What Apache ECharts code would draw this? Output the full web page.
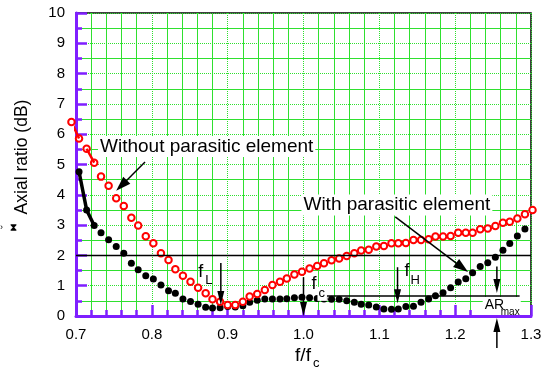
<!DOCTYPE html>
<html>
<head>
<meta charset="utf-8">
<script src="https://cdn.jsdelivr.net/npm/echarts@6/dist/echarts.min.js"></script>
<style>
  html, body { margin: 0; padding: 0; background: #fff; }
  #chart { width: 547px; height: 373px; }
</style>
</head>
<body>
<div id="chart"></div>
<script>
// normalised frequency of the measured points (f/fc)
const freq = [0.704,0.714,0.724,0.733,0.743,0.753,0.763,0.773,0.782,0.792,0.802,
  0.812,0.822,0.831,0.841,0.851,0.861,0.871,0.880,0.890,0.900,
  0.910,0.920,0.929,0.939,0.949,0.959,0.969,0.978,0.988,0.998,
  1.008,1.018,1.027,1.037,1.047,1.057,1.067,1.076,1.086,1.096,
  1.106,1.116,1.125,1.135,1.145,1.155,1.165,1.174,1.184,1.194,
  1.204,1.214,1.223,1.233,1.243,1.253,1.263,1.272,1.282,1.292,1.302];

// axial ratio (dB) with parasitic element
const arWith = [4.76,3.50,2.99,2.75,2.52,2.29,2.07,1.74,1.53,1.33,
  1.22,1.02,0.83,0.75,0.56,0.48,0.39,0.29,0.26,0.27,
  0.31,0.30,0.34,0.45,0.52,0.56,0.56,0.56,0.57,0.60,
  0.62,0.60,0.58,0.56,0.55,0.55,0.50,0.45,0.39,0.36,
  0.30,0.23,0.22,0.23,0.31,0.32,0.45,0.56,0.67,0.77,
  0.93,1.12,1.23,1.43,1.63,1.76,1.94,2.17,2.39,2.64,
  2.87,3.11];

// without parasitic element (one extra point below 0.7)
const freqNo = [0.694, ...freq];
const arNo = [6.40,5.86,5.52,5.06,4.60,4.30,3.89,3.63,3.24,2.99,
  2.63,2.40,2.07,1.85,1.54,1.33,1.13,0.93,0.75,0.55,
  0.47,0.36,0.36,0.47,0.64,0.73,0.86,1.02,1.13,1.24,
  1.37,1.46,1.57,1.65,1.74,1.84,1.90,1.98,2.07,2.16,
  2.19,2.29,2.31,2.40,2.40,2.41,2.51,2.51,2.53,2.62,
  2.62,2.64,2.75,2.75,2.75,2.86,2.89,2.97,3.08,3.11,
  3.22,3.36,3.50];

// reference lines: 2 dB limit and AR max level
const limitLine = [[0.7, 2], [1.3, 2]];
const arMaxLine = [[1.029, 0.66], [1.285, 0.66]];

// annotation arrows [from, to, head length, head width] in data units
const arrows = [
  [[0.791, 5.08], [0.753, 4.13], 15, 10],
  [[1.121, 3.27], [1.217, 1.45], 15, 10],
  [[0.891, 1.75], [0.891, 0.36], 14, 7],
  [[1.0, 1.28], [1.0, 0.0], 14, 7],
  [[1.124, 1.61], [1.124, 0.42], 14, 7],
  [[1.255, 1.63], [1.255, 0.76], 14, 7],
  [[1.255, -1.06], [1.255, -0.07], 14, 7]
];

const FONT = "'Liberation Sans', Arial, sans-serif";
const PURPLE = '#7f1fff';
const GREEN = '#2fe02f';

const chart = echarts.init(document.getElementById('chart'), null, { renderer: 'canvas' });

function pairs(xs, ys, from, to) {
  const out = [];
  for (let i = from; i <= to; i++) out.push([xs[i], ys[i]]);
  return out;
}

const option = {
  animation: false,
  backgroundColor: '#fff',
  grid: {
    left: 76, right: 16, top: 13, bottom: 57,
    show: true, borderColor: '#000', borderWidth: 1.5
  },
  xAxis: {
    type: 'value', min: 0.7, max: 1.3, interval: 0.1,
    axisLine: { lineStyle: { color: PURPLE, width: 3 } },
    axisTick: { inside: true, length: 11, lineStyle: { color: PURPLE, width: 2.5 } },
    minorTick: { show: true, splitNumber: 5, length: 6, lineStyle: { color: PURPLE, width: 2.5 } },
    axisLabel: { color: '#000', fontSize: 15, fontFamily: FONT, margin: 11,
      formatter: v => v.toFixed(1) },
    splitLine: { show: true, lineStyle: { color: GREEN, width: 1, type: 'dotted' } },
    minorSplitLine: { show: true, lineStyle: { color: GREEN, width: 1 } }
  },
  yAxis: {
    type: 'value', min: 0, max: 10, interval: 1,
    axisLine: { lineStyle: { color: PURPLE, width: 3 } },
    axisTick: { inside: true, length: 11, lineStyle: { color: PURPLE, width: 2.5 } },
    minorTick: { show: true, splitNumber: 2, length: 6, lineStyle: { color: PURPLE, width: 2.5 } },
    axisLabel: { color: '#000', fontSize: 15, fontFamily: FONT, margin: 11 },
    splitLine: { show: true, lineStyle: { color: GREEN, width: 1, type: 'dotted' } },
    minorSplitLine: { show: true, lineStyle: { color: GREEN, width: 1 } }
  },
  series: [
    { type: 'line', data: limitLine, symbol: 'none', silent: true,
      lineStyle: { color: '#000', width: 1.5 } },
    { type: 'line', data: arMaxLine, symbol: 'none', silent: true,
      lineStyle: { color: '#000', width: 1.5 } },
    { type: 'line', data: pairs(freq, arWith, 0, 2), symbol: 'none', silent: true,
      lineStyle: { color: '#000', width: 3.5 } },
    { type: 'line', data: pairs(freqNo, arNo, 0, 1), symbol: 'none', silent: true, clip: false,
      lineStyle: { color: '#ff0000', width: 2.5 } },
    { type: 'line', data: pairs(freqNo, arNo, 2, 3), symbol: 'none', silent: true,
      lineStyle: { color: '#ff0000', width: 2.5 } },
    { name: 'With parasitic element', type: 'scatter', symbol: 'circle', symbolSize: 7,
      data: freq.map((f, i) => [f, arWith[i]]),
      itemStyle: { color: '#000', opacity: 1 } },
    { name: 'Without parasitic element', type: 'scatter', symbol: 'emptyCircle', symbolSize: 6.5,
      clip: false,
      data: freqNo.map((f, i) => [f, arNo[i]]),
      itemStyle: { color: '#ff0000', borderColor: '#ff0000', borderWidth: 1.2, opacity: 1 } }
  ]
};
chart.setOption(option);

function px(p) { return chart.convertToPixel({ gridIndex: 0 }, p); }

function arrow(a, b, hl, hw) {
  const p = px(a), q = px(b);
  const dx = q[0] - p[0], dy = q[1] - p[1];
  const len = Math.hypot(dx, dy);
  const ux = dx / len, uy = dy / len;
  const bx = q[0] - ux * hl, by = q[1] - uy * hl;
  return [
    { type: 'line', z: 100, shape: { x1: p[0], y1: p[1], x2: bx + ux, y2: by + uy },
      style: { stroke: '#000', lineWidth: 1.5 } },
    { type: 'polygon', z: 100,
      shape: { points: [[q[0], q[1]], [bx - uy * hw / 2, by + ux * hw / 2], [bx + uy * hw / 2, by - ux * hw / 2]] },
      style: { fill: '#000' } }
  ];
}

function label(pos, text, size, extra) {
  const p = px(pos);
  return {
    type: 'text', z: 101, x: p[0], y: p[1],
    style: Object.assign({ text: text, fill: '#000', font: size + 'px ' + FONT,
      textAlign: 'left', textVerticalAlign: 'middle' }, extra || {})
  };
}

const WHITE = { backgroundColor: '#fff', padding: [1, 2, 1, 2] };

const g = [];
arrows.forEach(a => g.push(...arrow(a[0], a[1], a[2], a[3])));

// white box behind AR max
const b0 = px([1.2363, 0.66]), b1 = px([1.2865, 0]);
g.push({ type: 'rect', z: 99, shape: { x: b0[0], y: b0[1] + 1, width: b1[0] - b0[0], height: b1[1] - b0[1] - 2 },
  style: { fill: '#fff' } });

g.push(label([0.7290, 5.59], 'Without parasitic element', 19, WHITE));
g.push(label([0.9973, 3.66], 'With parasitic element', 19, WHITE));
g.push(label([0.8612, 1.45], 'f', 18));
g.push(label([0.8704, 1.16], 'L', 13));
g.push(label([1.0104, 1.06], 'f', 18));
g.push(label([1.0184, 0.73], 'c', 13, { backgroundColor: '#fff', padding: [0, 2, 1, 1] }));
g.push(label([1.1333, 1.49], 'f', 18));
g.push(label([1.1412, 1.19], 'H', 13));
g.push(label([1.239, 0.36], 'AR', 14));
g.push(label([1.2601, 0.13], 'max', 10));

// axis titles
g.push({ type: 'text', x: 22, y: 157, rotation: Math.PI / 2,
  style: { text: 'Axial ratio (dB)', fill: '#000', font: '17.5px ' + FONT,
    textAlign: 'center', textVerticalAlign: 'middle' } });
g.push({ type: 'text', x: 303, y: 356,
  style: { text: 'f/f', fill: '#000', font: '19px ' + FONT, textAlign: 'center', textVerticalAlign: 'middle' } });
g.push({ type: 'text', x: 313, y: 363,
  style: { text: 'c', fill: '#000', font: '13px ' + FONT, textAlign: 'left', textVerticalAlign: 'middle' } });
// stray marks at the left edge
g.push({ type: 'text', x: 0, y: 228,
  style: { text: '›', fill: '#000', font: '9px ' + FONT, textVerticalAlign: 'middle' } });
g.push({ type: 'text', x: 10, y: 228,
  style: { text: '⧗', fill: '#000', font: 'bold 10px DejaVu Sans', textVerticalAlign: 'middle' } });

chart.setOption({ graphic: g });
</script>
</body>
</html>
